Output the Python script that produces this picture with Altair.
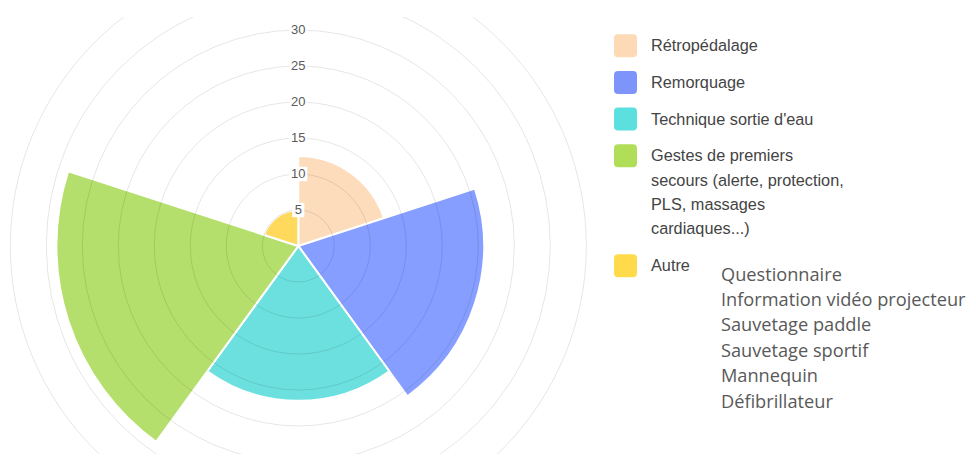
import math
import altair as alt
import pandas as pd

# ---- data ----
categories = [
    "Rétropédalage",
    "Remorquage",
    "Technique sortie d'eau",
    "Gestes de premiers secours (alerte, protection, PLS, massages cardiaques...)",
    "Autre",
]
values = [12.5, 25.8, 21.5, 33.6, 5.0]
legend_lines = [
    ["Rétropédalage"],
    ["Remorquage"],
    ["Technique sortie d'eau"],
    ["Gestes de premiers", "secours (alerte, protection,", "PLS, massages", "cardiaques...)"],
    ["Autre"],
]
ring_values = [5, 10, 15, 20, 25, 30, 35, 40]
tick_values = [5, 10, 15, 20, 25, 30]
note_lines = [
    "Questionnaire",
    "Information vidéo projecteur",
    "Sauvetage paddle",
    "Sauvetage sportif",
    "Mannequin",
    "Défibrillateur",
]

# ---- styles ----
fill_colors = ["#FDDCBC", "#869EFF", "#6CE0DF", "#B5DF6C", "#FFD95C"]
legend_colors = ["#FDD9B6", "#7D95FB", "#5CDFDF", "#B1DE58", "#FFDB4C"]

CX, CY = 290.3, 229.0      # centre of the polar area (plot coords)
R30 = 216.0                # pixel radius of value 30
LINE_RATIO = 24.4 / 36.7   # legend line height relative to row height

n = len(categories)
rscale = alt.Scale(type="linear", domain=[0, 30], range=[0, R30], zero=True, nice=False)
tscale = alt.Scale(type="linear", domain=[0, n], range=[0, 2 * math.pi], zero=True, nice=False)
tick_y = alt.Scale(type="linear", domain=[0, 30], range=[CY, CY - R30], nice=False, zero=False)

df = pd.DataFrame({
    "cat": categories,
    "value": values,
    "slot0": list(range(n)),
    "slot1": [i + 1 for i in range(n)],
    "fill": fill_colors,
})

rings_df = pd.DataFrame({"r": ring_values})

tick_df = pd.DataFrame({
    "v": tick_values,
    "label": [str(v) for v in tick_values],
    "w": [str(len(str(v))) for v in tick_values],
})

slots = []
s = 0.0
for lines in legend_lines:
    slots.append(s)
    s += 1 + (len(lines) - 1) * LINE_RATIO
leg_df = pd.DataFrame({
    "label": ["\n".join(l) for l in legend_lines],
    "color": legend_colors,
    "slot": slots,
})
leg_y = alt.Scale(domain=[0, slots[-1]], range=[28.7, 248.7], nice=False, zero=False)

note_df = pd.DataFrame({"text": ["\n".join(note_lines)]})

wedges = alt.Chart(df).mark_arc(stroke="white", strokeWidth=2, clip=True).encode(
    theta=alt.Theta("slot0:Q", scale=tscale, stack=None),
    theta2="slot1:Q",
    radius=alt.Radius("value:Q", scale=rscale, stack=None),
    color=alt.Color("fill:N", scale=None),
    x=alt.value(CX),
    y=alt.value(CY),
)

rings = alt.Chart(rings_df).mark_arc(
    filled=False, stroke="black", strokeOpacity=0.1, strokeWidth=1,
    theta=0, theta2=2 * math.pi, clip=True,
).encode(
    radius=alt.Radius("r:Q", scale=rscale, stack=None),
    x=alt.value(CX),
    y=alt.value(CY),
)

path1 = "M-0.67,-0.8L0.67,-0.8L0.67,0.8L-0.67,0.8Z"
path2 = "M-1,-0.8L1,-0.8L1,0.8L-1,0.8Z"
backdrops = alt.Chart(tick_df).mark_point(
    filled=True, color="white", opacity=1, strokeWidth=0, size=324, clip=True
).encode(
    x=alt.value(CX),
    y=alt.Y("v:Q", scale=tick_y, axis=None),
    shape=alt.Shape("w:N", scale=alt.Scale(domain=["1", "2"], range=[path1, path2]), legend=None),
)

tick_text = alt.Chart(tick_df).mark_text(
    font="Liberation Sans", fontSize=13, color="#5a5a5a", align="center", baseline="middle", clip=True
).encode(
    x=alt.value(CX),
    y=alt.Y("v:Q", scale=tick_y, axis=None),
    text="label:N",
)

rounded = ("M-0.65,-1L0.65,-1Q1,-1 1,-0.65L1,0.65Q1,1 0.65,1L-0.65,1"
           "Q-1,1 -1,0.65L-1,-0.65Q-1,-1 -0.65,-1Z")
leg_sq = alt.Chart(leg_df).mark_point(
    shape=rounded, filled=True, opacity=1, strokeWidth=0, size=529
).encode(
    x=alt.value(617.5),
    y=alt.Y("slot:Q", scale=leg_y, axis=None),
    color=alt.Color("color:N", scale=None),
)

leg_text = alt.Chart(leg_df).mark_text(
    font="Liberation Sans", fontSize=16.3, color="#444444", align="left",
    baseline="alphabetic", dy=5.5, lineBreak="\n", lineHeight=24.4,
).encode(
    x=alt.value(643),
    y=alt.Y("slot:Q", scale=leg_y, axis=None),
    text="label:N",
)

note = alt.Chart(note_df).mark_text(
    font="Open Sans", fontSize=18.2, color="#595959", align="left",
    baseline="alphabetic", lineBreak="\n", lineHeight=25.4,
).encode(
    x=alt.value(713),
    y=alt.value(263.7),
    text="text:N",
)

chart = alt.layer(
    wedges, rings, backdrops, tick_text, leg_sq, leg_text, note
).resolve_scale(
    y="independent"
).properties(
    width=960,
    height=437,
    padding={"left": 0, "top": 9, "right": 0, "bottom": 0},
    autosize=alt.AutoSizeParams(type="none"),
).configure_view(strokeWidth=0)

chart.save("out.html", embed_options={"renderer": "svg", "actions": False})
